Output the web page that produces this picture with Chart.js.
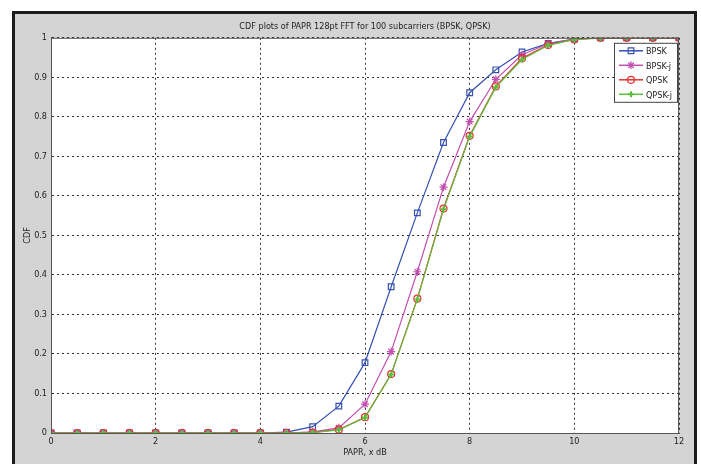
<!DOCTYPE html>
<html lang="en">
<head>
    <meta charset="UTF-8">
    <title>CDF plots of PAPR</title>
    <script src="https://cdn.jsdelivr.net/npm/chart.js@4.4.1/dist/chart.umd.min.js"></script>
    <style>
        body { margin: 0; background: #fff; }
        #frame {
            position: absolute; left: 12px; top: 11px; width: 679px; height: 460px;
            border: 3px solid #1c1c1c; background: #d4d4d4;
        }
        #wrap { position: absolute; left: 0; top: 0; width: 701px; height: 464px; }
    </style>
</head>
<body>
<div id="frame"></div>
<div id="wrap"><canvas id="chart" width="701" height="464"></canvas></div>
<script>
    // PAPR threshold (dB)
    const papr = [0, 0.5, 1, 1.5, 2, 2.5, 3, 3.5, 4, 4.5, 5, 5.5, 6, 6.5, 7, 7.5, 8, 8.5, 9, 9.5, 10, 10.5, 11, 11.5, 12]

    const bpsk = [0, 0, 0, 0, 0, 0, 0, 0, 0, 0.002, 0.016, 0.068, 0.178, 0.37, 0.557, 0.735, 0.861, 0.919, 0.964, 0.986, 0.997, 1, 1, 1, 1]
    const bpskJ = [0, 0, 0, 0, 0, 0, 0, 0, 0, 0, 0.003, 0.013, 0.073, 0.206, 0.408, 0.622, 0.788, 0.895, 0.957, 0.985, 0.997, 1, 1, 1, 1]
    const qpsk = [0, 0, 0, 0, 0, 0, 0, 0, 0, 0, 0.001, 0.009, 0.04, 0.149, 0.34, 0.568, 0.752, 0.877, 0.948, 0.982, 0.996, 1, 1, 1, 1]
    const qpskJ = [0, 0, 0, 0, 0, 0, 0, 0, 0, 0, 0.001, 0.008, 0.039, 0.148, 0.338, 0.566, 0.75, 0.875, 0.945, 0.981, 0.996, 0.999, 1, 1, 1]

    const xTicks = [0, 2, 4, 6, 8, 10, 12]

    const font = '"DejaVu Sans Condensed", "Liberation Sans Narrow", Arial, sans-serif'

    function points(values) {
        return values.map((v, i) => ({x: papr[i], y: v}))
    }

    const series = [
        {label: 'BPSK', values: bpsk, color: '#3550b0', style: 'rect', radius: 4, fill: 'rgba(0,0,0,0)', order: 4},
        {label: 'BPSK-j', values: bpskJ, color: '#c24fae', style: 'star', radius: 4, fill: 'rgba(0,0,0,0)', order: 3},
        {label: 'QPSK', values: qpsk, color: '#e8302e', style: 'circle', radius: 3.5, fill: 'rgba(0,0,0,0)', order: 2},
        {label: 'QPSK-j', values: qpskJ, color: '#5cbf3c', style: 'cross', radius: 3, fill: '#5cbf3c', order: 1},
    ]

    const datasets = series.map(s => ({
        label: s.label,
        data: points(s.values),
        borderColor: s.color,
        backgroundColor: s.fill,
        pointBorderColor: s.color,
        pointBackgroundColor: s.fill,
        pointStyle: s.style,
        pointRadius: s.radius,
        pointBorderWidth: s.style === 'cross' ? 2 : 1.2,
        borderWidth: 1.2,
        tension: 0,
        order: s.order,
    }))

    const plotBox = {
        id: 'plotBox',
        beforeDraw(chart) {
            const {ctx, chartArea: a} = chart
            ctx.save()
            ctx.fillStyle = '#ffffff'
            ctx.fillRect(a.left, a.top, a.right - a.left, a.bottom - a.top)
            ctx.restore()
        },
        afterDatasetsDraw(chart) {
            const {ctx, chartArea: a} = chart
            ctx.save()
            ctx.strokeStyle = '#555'
            ctx.lineWidth = 1
            ctx.strokeRect(a.left + 0.5, a.top + 0.5, a.right - a.left - 1, a.bottom - a.top)

            // legend box in the upper right corner
            const bx = a.right - 65, by = a.top + 5, bw = 63, bh = 59
            ctx.fillStyle = '#fff'
            ctx.fillRect(bx, by, bw, bh)
            ctx.strokeStyle = '#444'
            ctx.strokeRect(bx + 0.5, by + 0.5, bw, bh)
            ctx.font = '9px ' + font
            ctx.textBaseline = 'middle'
            chart.data.datasets.forEach((ds, i) => {
                const y = by + 8 + i * 14.5
                ctx.strokeStyle = ds.borderColor
                ctx.lineWidth = 1.5
                ctx.beginPath()
                ctx.moveTo(bx + 5, y)
                ctx.lineTo(bx + 29, y)
                ctx.stroke()
                ctx.fillStyle = ds.pointBackgroundColor
                ctx.strokeStyle = ds.pointBorderColor
                ctx.lineWidth = ds.pointBorderWidth
                Chart.helpers.drawPoint(ctx, {
                    pointStyle: ds.pointStyle,
                    radius: ds.pointRadius,
                    borderWidth: ds.pointBorderWidth,
                    rotation: 0,
                }, bx + 17, y)
                ctx.fillStyle = '#222'
                ctx.fillText(ds.label, bx + 32, y + 1)
            })
            ctx.restore()
        },
    }

    const gridStyle = {
        color: '#333',
        lineWidth: 1,
        drawTicks: false,
    }

    const ctx = document.getElementById('chart').getContext('2d')
    const chart = new Chart(ctx, {
        type: 'line',
        data: {datasets: datasets},
        options: {
            responsive: false,
            animation: false,
            layout: {
                padding: {left: 0, right: 22, top: 0, bottom: 0},
            },
            scales: {
                x: {
                    type: 'linear',
                    min: 0,
                    max: 12,
                    afterBuildTicks: scale => {
                        scale.ticks = xTicks.map(v => ({value: v}))
                    },
                    afterFit: scale => {
                        scale.height = 31
                    },
                    grid: gridStyle,
                    border: {display: true, color: '#555', dash: [2, 3]},
                    ticks: {
                        color: '#222',
                        padding: 3,
                        font: {size: 9, family: font},
                        maxRotation: 0,
                    },
                    title: {
                        display: true,
                        text: 'PAPR, x dB',
                        color: '#222',
                        font: {size: 9, family: font},
                        padding: {top: 0, bottom: 6},
                    },
                },
                y: {
                    min: 0,
                    max: 1,
                    afterFit: scale => {
                        scale.width = 51
                    },
                    grid: gridStyle,
                    border: {display: true, color: '#555', dash: [2, 3]},
                    ticks: {
                        stepSize: 0.1,
                        color: '#222',
                        padding: 4,
                        font: {size: 9, family: font},
                        callback: v => String(Number(v.toFixed(1))),
                    },
                    title: {
                        display: true,
                        text: 'CDF',
                        color: '#222',
                        font: {size: 9, family: font},
                        padding: {top: 22, bottom: 0},
                    },
                },
            },
            plugins: {
                legend: {display: false},
                tooltip: {enabled: false},
                title: {
                    display: true,
                    fullSize: false,
                    text: 'CDF plots of PAPR 128pt FFT for 100 subcarriers (BPSK, QPSK)',
                    color: '#222',
                    font: {size: 9, family: font, weight: 'normal'},
                    padding: {top: 21, bottom: 6},
                },
            },
        },
        plugins: [plotBox],
    })
</script>
</body>
</html>
